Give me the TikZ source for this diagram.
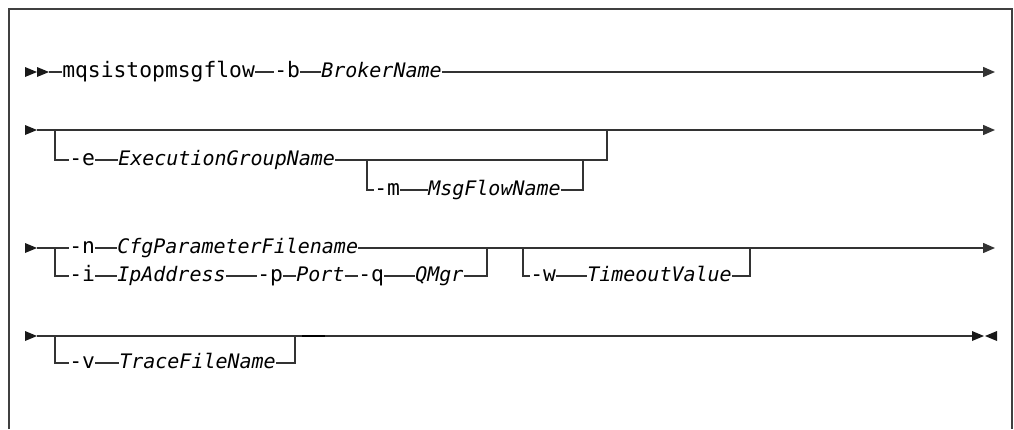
\documentclass[tikz,border=0pt]{standalone}
\usepackage{fontspec}
\setmonofont{DejaVu Sans Mono}
\usetikzlibrary{arrows.meta}

\begin{document}
\begin{tikzpicture}[
    x=0.75pt, y=-0.75pt,
    rail/.style={line width=1.1pt, draw=black!80},
    kw/.style={font=\ttfamily\fontsize{16}{19}\selectfont, inner sep=0pt, anchor=west, text height=8.8pt, text depth=0pt},
    var/.style={font=\ttfamily\itshape\fontsize{15}{18}\selectfont, inner sep=0pt, anchor=west, text height=8.25pt, text depth=0pt},
    to end/.style={rail, -{Triangle[length=9pt,width=7.5pt]}},
    head/.pic={\fill[black!90] (0,-5) -- (12,0) -- (0,5) -- cycle;},
    tail/.pic={\fill[black!90] (12,-5) -- (0,0) -- (12,5) -- cycle;}
  ]
  \useasboundingbox (0,0) rectangle (1014,429);

  % frame
  \draw[black!75, line width=0.8pt] (9,429) -- (9,9) -- (1012,9) -- (1012,429);

  % first row
  \pic at (25,72) {head};
  \pic at (37,72) {head};
  \coordinate (r1s) at (49,72);
  \node[kw] (cmd) at (62,72) {mqsistopmsgflow};
  \node[kw] (optb) at (274,72) {-b};
  \node[var] (broker) at (321,72) {BrokerName};
  \coordinate (r1e) at (995,72);
  \draw[rail] (r1s) -- (cmd);
  \draw[rail] (cmd) -- (optb);
  \draw[rail] (optb) -- (broker);
  \draw[to end] (broker) -- (r1e);

  % second row
  \pic at (25,130) {head};
  \coordinate (r2s) at (37,130);
  \coordinate (r2a) at (55,130);
  \coordinate (r2b) at (607,130);
  \coordinate (r2e) at (995,130);
  \draw[to end] (r2s) -- (r2e);

  \node[kw] (opte) at (69,160) {-e};
  \node[var] (egname) at (118,160) {ExecutionGroupName};
  \draw[rail] (r2a) |- (opte);
  \draw[rail] (opte) -- (egname);
  \draw[rail] (egname) -| (r2b);

  \coordinate (mjoin) at (367,160);
  \coordinate (mback) at (583,160);
  \node[kw] (optm) at (374,190) {-m};
  \node[var] (flowname) at (428,190) {MsgFlowName};
  \draw[rail] (mjoin) |- (optm);
  \draw[rail] (optm) -- (flowname);
  \draw[rail] (flowname) -| (mback);

  % third row
  \pic at (25,248) {head};
  \coordinate (r3s) at (37,248);
  \coordinate (r3a) at (55,248);
  \coordinate (r3b) at (487,248);
  \coordinate (r3c) at (523,248);
  \coordinate (r3d) at (750,248);
  \coordinate (r3e) at (995,248);
  \node[kw] (optn) at (69,248) {-n};
  \node[var] (cfgname) at (117,248) {CfgParameterFilename};
  \draw[rail] (r3s) -- (optn);
  \draw[rail] (optn) -- (cfgname);
  \draw[to end] (cfgname) -- (r3e);

  \node[kw] (opti) at (69,276) {-i};
  \node[var] (ipaddr) at (117,276) {IpAddress};
  \node[kw] (optp) at (257,276) {-p};
  \node[var] (port) at (296,276) {Port};
  \node[kw] (optq) at (358,276) {-q};
  \node[var] (qmgr) at (415,276) {QMgr};
  \draw[rail] (r3a) |- (opti);
  \draw[rail] (opti) -- (ipaddr);
  \draw[rail] (ipaddr) -- (optp);
  \draw[rail] (optp) -- (port);
  \draw[rail] (port) -- (optq);
  \draw[rail] (optq) -- (qmgr);
  \draw[rail] (qmgr) -| (r3b);

  \node[kw] (optw) at (530,276) {-w};
  \node[var] (timeout) at (587,276) {TimeoutValue};
  \draw[rail] (r3c) |- (optw);
  \draw[rail] (optw) -- (timeout);
  \draw[rail] (timeout) -| (r3d);

  % last row
  \pic at (25,336) {head};
  \coordinate (r4s) at (37,336);
  \coordinate (r4a) at (55,336);
  \coordinate (r4b) at (295,336);
  \coordinate (r4e) at (972,336);
  \draw[rail] (r4s) -- (r4e);
  \pic at (972,336) {head};
  \pic at (985,336) {tail};
  \draw[line width=1.8pt, black] (302,336) -- (325,336);

  \node[kw] (optv) at (69,363) {-v};
  \node[var] (tracefile) at (119,363) {TraceFileName};
  \draw[rail] (r4a) |- (optv);
  \draw[rail] (optv) -- (tracefile);
  \draw[rail] (tracefile) -| (r4b);

\end{tikzpicture}
\end{document}
